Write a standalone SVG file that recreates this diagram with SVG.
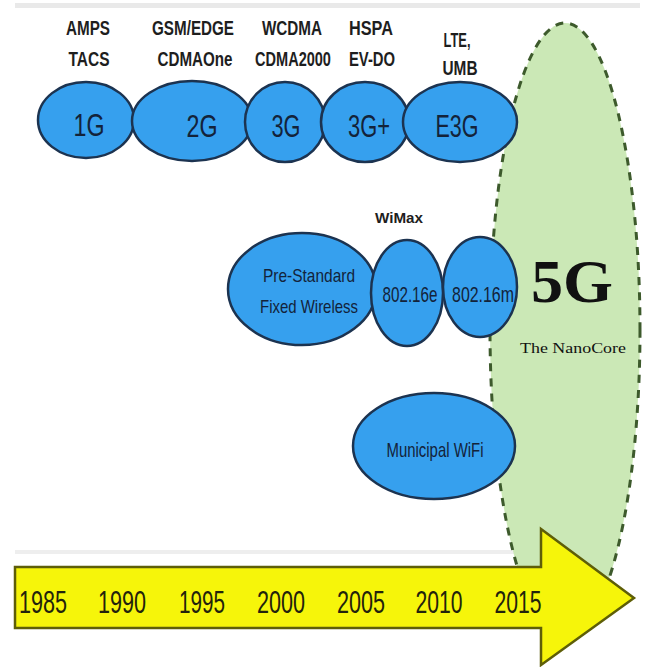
<svg xmlns="http://www.w3.org/2000/svg" width="645" height="667" viewBox="0 0 645 667">
<style>
.bg{fill:#ffffff}
.node ellipse{fill:#36a0ee;stroke:#1c3350;stroke-width:2.5}
.lbl{font-family:"Liberation Sans",Arial,sans-serif;font-weight:bold;fill:#1e1e1e;text-anchor:middle}
.gen{font-family:"Liberation Sans",Arial,sans-serif;fill:#13233a;text-anchor:middle}
.yr{font-family:"Liberation Sans",Arial,sans-serif;fill:#22220c;text-anchor:middle;font-size:31px}
.serif{font-family:"Liberation Serif","Times New Roman",serif;fill:#111111;text-anchor:middle}
</style>
<rect class="bg" x="0" y="0" width="645" height="667"/>
<rect x="15" y="3" width="625" height="5" fill="#e9e9e9"/>
<rect x="15" y="550" width="525" height="4" fill="#eeeeee"/>

<g id="node-5g">
<ellipse cx="565" cy="330" rx="75" ry="307" fill="#cbe8b6" stroke="#3d5a2c" stroke-width="3" stroke-dasharray="8,7"/>
<text class="serif" x="572" y="302" font-size="62" font-weight="bold" textLength="82" lengthAdjust="spacingAndGlyphs">5G</text>
<text class="serif" x="573" y="353" font-size="15" textLength="106" lengthAdjust="spacingAndGlyphs">The NanoCore</text>
</g>

<g id="timeline">
<polygon points="15,567 541,567 541,529 634,598 541,665 541,628 15,628" fill="#f6f50a" stroke="#5e5e08" stroke-width="2.5" stroke-linejoin="miter"/>
<text class="yr" x="43" y="613" textLength="48" lengthAdjust="spacingAndGlyphs">1985</text>
<text class="yr" x="122" y="613" textLength="48" lengthAdjust="spacingAndGlyphs">1990</text>
<text class="yr" x="202" y="613" textLength="46" lengthAdjust="spacingAndGlyphs">1995</text>
<text class="yr" x="281" y="613" textLength="48" lengthAdjust="spacingAndGlyphs">2000</text>
<text class="yr" x="361" y="613" textLength="48" lengthAdjust="spacingAndGlyphs">2005</text>
<text class="yr" x="439" y="613" textLength="47" lengthAdjust="spacingAndGlyphs">2010</text>
<text class="yr" x="518" y="613" textLength="47" lengthAdjust="spacingAndGlyphs">2015</text>
</g>

<g id="node-1g" class="node">
<ellipse cx="86" cy="120" rx="48" ry="38"/>
<text class="gen" x="89" y="136" font-size="32" textLength="31" lengthAdjust="spacingAndGlyphs">1G</text>
</g>
<g id="node-2g" class="node">
<ellipse cx="192" cy="121" rx="60" ry="40"/>
<text class="gen" x="202" y="137" font-size="32" textLength="31" lengthAdjust="spacingAndGlyphs">2G</text>
</g>
<g id="node-3g" class="node">
<ellipse cx="285" cy="122" rx="40" ry="40"/>
<text class="gen" x="286" y="137" font-size="32" textLength="29" lengthAdjust="spacingAndGlyphs">3G</text>
</g>
<g id="node-3gplus" class="node">
<ellipse cx="365" cy="122" rx="44" ry="40"/>
<text class="gen" x="369" y="137" font-size="32" textLength="42" lengthAdjust="spacingAndGlyphs">3G+</text>
</g>
<g id="node-e3g" class="node">
<ellipse cx="460" cy="122" rx="57" ry="40"/>
<text class="gen" x="457" y="137" font-size="32" textLength="43" lengthAdjust="spacingAndGlyphs">E3G</text>
</g>

<g id="labels-top">
<text class="lbl" x="88" y="35" font-size="20" textLength="44" lengthAdjust="spacingAndGlyphs">AMPS</text>
<text class="lbl" x="89" y="66" font-size="20" textLength="41" lengthAdjust="spacingAndGlyphs">TACS</text>
<text class="lbl" x="193" y="35" font-size="20" textLength="82" lengthAdjust="spacingAndGlyphs">GSM/EDGE</text>
<text class="lbl" x="195" y="66" font-size="20" textLength="75" lengthAdjust="spacingAndGlyphs">CDMAOne</text>
<text class="lbl" x="292" y="35" font-size="20" textLength="60" lengthAdjust="spacingAndGlyphs">WCDMA</text>
<g transform="translate(293,66) scale(0.727,1)"><text class="lbl" x="0" y="0" font-size="20">CDMA2000</text></g>
<text class="lbl" x="371" y="35" font-size="20" textLength="44" lengthAdjust="spacingAndGlyphs">HSPA</text>
<g transform="translate(372,66) scale(0.742,1)"><text class="lbl" x="0" y="0" font-size="20">EV-DO</text></g>
<text class="lbl" x="457" y="47" font-size="20" textLength="27" lengthAdjust="spacingAndGlyphs">LTE,</text>
<text class="lbl" x="460" y="75" font-size="20" textLength="35" lengthAdjust="spacingAndGlyphs">UMB</text>
<text class="lbl" x="399" y="223" font-size="15" textLength="48" lengthAdjust="spacingAndGlyphs">WiMax</text>
</g>

<g id="node-prestandard" class="node">
<ellipse cx="302" cy="289" rx="74" ry="56"/>
<text class="gen" x="309" y="282" font-size="19" textLength="92" lengthAdjust="spacingAndGlyphs">Pre-Standard</text>
<text class="gen" x="309" y="313" font-size="19" textLength="98" lengthAdjust="spacingAndGlyphs">Fixed Wireless</text>
</g>
<g id="node-80216e" class="node">
<ellipse cx="407" cy="293" rx="36" ry="53"/>
<g transform="translate(410,302) scale(0.692,1)"><text class="gen" x="0" y="0" font-size="22">802.16e</text></g>
</g>
<g id="node-80216m" class="node">
<ellipse cx="480" cy="287" rx="37" ry="50"/>
<g transform="translate(483,302) scale(0.724,1)"><text class="gen" x="0" y="0" font-size="22">802.16m</text></g>
</g>
<g id="node-wifi" class="node">
<ellipse cx="434" cy="446" rx="81" ry="53"/>
<text class="gen" x="435" y="457" font-size="21" textLength="97" lengthAdjust="spacingAndGlyphs">Municipal WiFi</text>
</g>

<g id="connectors"></g>
</svg>
